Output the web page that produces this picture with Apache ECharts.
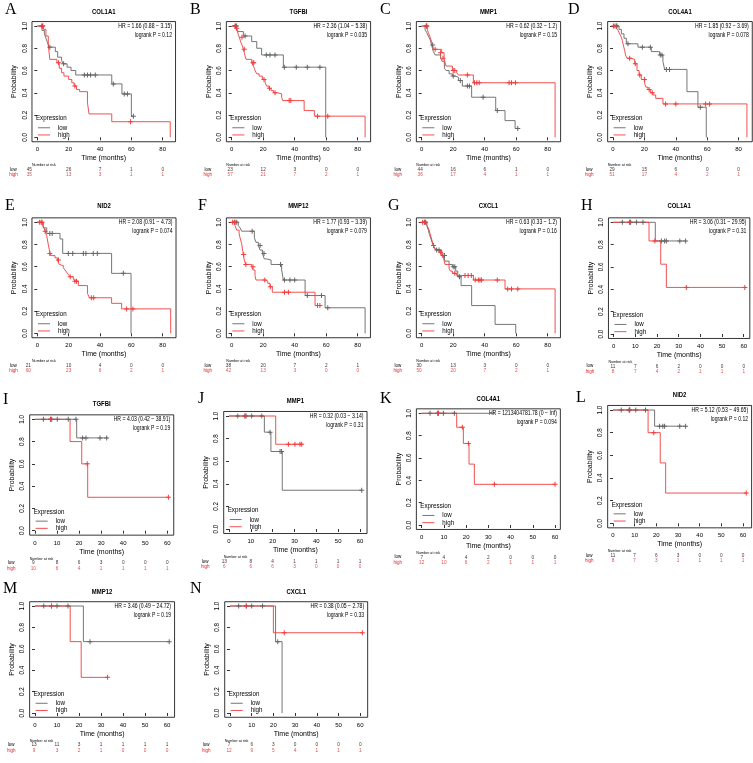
<!DOCTYPE html>
<html><head><meta charset="utf-8">
<script src="https://cdn.jsdelivr.net/npm/echarts@6.0.0/dist/echarts.min.js"></script>
<style>html,body{margin:0;padding:0;background:#fff}#c{width:753px;height:763px}</style>
</head><body><div id="c"></div><script>
// ---------- tick labels ----------
const X_TICKS_85 = [0, 20, 40, 60, 80];
const X_TICKS_60 = [0, 10, 20, 30, 40, 50, 60];
const Y_TICKS = [0, 0.2, 0.4, 0.6, 0.8, 1.0];

// ---------- panel texts ----------
const PANELS = ['A','B','C','D','E','F','G','H','I','J','K','L','M','N'];
const GENES = ['COL1A1','TGFBI','MMP1','COL4A1','NID2','MMP12','CXCL1','COL1A1','TGFBI','MMP1','COL4A1','NID2','MMP12','CXCL1'];
const HR_TEXT = ['HR = 1.66 (0.88 \u2212 3.15)','HR = 2.36 (1.04 \u2212 5.38)','HR = 0.62 (0.32 \u2212 1.2)','HR = 1.85 (0.92 \u2212 3.69)',
  'HR = 2.08 (0.91 \u2212 4.73)','HR = 1.77 (0.93 \u2212 3.39)','HR = 0.63 (0.33 \u2212 1.2)','HR = 3.06 (0.31 \u2212 29.95)',
  'HR = 4.03 (0.42 \u2212 38.91)','HR = 0.32 (0.03 \u2212 3.14)','HR = 1213404781.78 (0 \u2212 Inf)','HR = 5.12 (0.53 \u2212 49.65)',
  'HR = 3.46 (0.49 \u2212 24.72)','HR = 0.38 (0.05 \u2212 2.78)'];
const P_TEXT = ['0.12','0.035','0.15','0.078','0.074','0.079','0.16','0.31','0.19','0.31','0.094','0.12','0.19','0.33'];

// ---------- survival curves: [time, survival] ----------
const A_low = [[0,1],[3,0.96],[4.5,0.93],[5.5,0.89],[6.5,0.85],[7.5,0.81],[11.5,0.77],[13,0.72],[15.5,0.69],[16.5,0.66],[19,0.63],[21.5,0.6],[24.5,0.56],[47.5,0.48],[54,0.39],[60,0.19],[61.3,0.19]];
const A_lowCens = [[3.5,1],[8,0.81],[16.8,0.66],[30,0.56],[32,0.56],[34,0.56],[37,0.56],[48.5,0.48],[55.5,0.39],[57.5,0.39],[61.3,0.19]];
const A_high = [[0,1],[4,0.97],[5.5,0.91],[7,0.83],[8,0.7],[12.5,0.67],[14,0.62],[15.5,0.58],[17,0.55],[20,0.52],[22,0.49],[23.5,0.46],[25,0.43],[27,0.41],[32,0.31],[33,0.21],[47.5,0.14],[84.8,0.14],[84.8,0]];
const A_highCens = [[2.8,1],[3.3,1],[13.5,0.67],[24,0.46],[59.5,0.14]];

const B_low = [[0,1],[3.2,0.97],[4.2,0.95],[7.4,0.91],[12.7,0.86],[15.9,0.8],[19,0.74],[32.8,0.63],[59.7,0.63],[59.7,0]];
const B_lowCens = [[2.5,1],[3,1],[8.5,0.91],[22,0.74],[24.3,0.74],[27.5,0.74],[33.4,0.63],[41,0.63],[48,0.63],[56,0.63]];
const B_high = [[0,1],[2.5,0.98],[3.5,0.96],[4.2,0.92],[4.8,0.9],[5.9,0.85],[6.8,0.82],[7.4,0.79],[8,0.76],[8.5,0.73],[9.1,0.7],[12.7,0.67],[13.4,0.65],[14.4,0.62],[14.8,0.6],[15.9,0.57],[17.4,0.55],[19.5,0.52],[21.2,0.49],[22.2,0.46],[23.7,0.44],[25,0.42],[26.5,0.4],[29.2,0.39],[31.7,0.36],[32.4,0.33],[46,0.24],[52.5,0.19],[84.7,0.19],[84.7,0]];
const B_highCens = [[2.1,1],[3.2,0.98],[6.5,0.9],[8,0.79],[13.5,0.67],[14,0.67],[20.5,0.52],[24,0.44],[27.5,0.4],[36.5,0.33],[37.5,0.33],[54.5,0.19],[61,0.19]];

const C_low = [[0,1],[2.1,0.97],[3.2,0.94],[4.2,0.91],[5.3,0.88],[6.3,0.83],[6.8,0.8],[7.4,0.77],[8.5,0.74],[12,0.71],[13.1,0.68],[14.4,0.62],[15.5,0.6],[17.4,0.57],[19.5,0.55],[21.2,0.54],[23.3,0.51],[25.8,0.46],[31.7,0.36],[47,0.24],[52.9,0.15],[59.3,0.08],[61,0.08]];
const C_lowCens = [[3,1],[7,0.83],[20,0.55],[24.5,0.51],[29,0.46],[30.3,0.46],[39,0.36],[48,0.24],[61,0.08]];
const C_high = [[0,1],[3.6,0.97],[4.2,0.94],[5.3,0.9],[6.3,0.86],[7.4,0.79],[12.7,0.76],[14.2,0.71],[15.4,0.64],[19.5,0.6],[22.2,0.58],[23.3,0.56],[32.8,0.49],[84.7,0.49],[84.7,0]];
const C_highCens = [[2.8,1],[3.3,1],[8.5,0.79],[12,0.76],[13.5,0.71],[20,0.6],[21,0.6],[29,0.56],[33.5,0.49],[35,0.49],[36.5,0.49],[55.5,0.49],[57,0.49],[59.5,0.49]];

const D_low = [[0,1],[3.8,0.97],[5.3,0.93],[7,0.89],[8.5,0.84],[15.9,0.81],[24.4,0.77],[29.7,0.74],[31.8,0.68],[32.9,0.61],[47.1,0.41],[54.1,0.27],[59.4,0.27],[59.4,0]];
const D_lowCens = [[2.1,1],[2.5,1],[9.5,0.84],[18.7,0.81],[23.8,0.81],[30.1,0.74],[31.2,0.74],[34,0.61],[36,0.61],[55.6,0.27]];
const D_high = [[0,1],[2.1,0.98],[3.2,0.96],[4.2,0.93],[5.3,0.9],[5.9,0.87],[6.4,0.84],[7.4,0.78],[8,0.74],[8.9,0.71],[11.7,0.7],[13.8,0.66],[15.3,0.6],[16.6,0.56],[18,0.52],[20.2,0.48],[21,0.45],[22.3,0.43],[23.8,0.4],[25.5,0.38],[27.2,0.35],[31.8,0.3],[85.3,0.3],[85.3,0]];
const D_highCens = [[0.3,1],[1.2,1],[10.6,0.71],[14.2,0.66],[17,0.56],[20,0.52],[23,0.43],[25,0.4],[33.5,0.3],[40,0.3],[59,0.3],[61.5,0.3]];

const E_low = [[0,1],[3.8,0.95],[6,0.9],[14.5,0.85],[16.2,0.72],[47.4,0.54],[59.8,0.54],[59.8,0]];
const E_lowCens = [[8,0.9],[9.5,0.9],[19.8,0.72],[22.6,0.72],[29.4,0.72],[31,0.72],[35.7,0.72],[38.3,0.72],[54.9,0.54]];
const E_high = [[0,1],[3.4,0.97],[4.2,0.95],[5,0.92],[6,0.88],[7,0.8],[7.7,0.75],[8.1,0.72],[8.5,0.7],[11.3,0.68],[12.8,0.66],[14,0.62],[15,0.61],[16.6,0.59],[17.7,0.57],[18.7,0.55],[19.8,0.53],[20.9,0.51],[23,0.49],[24,0.47],[26.2,0.43],[32,0.36],[33.2,0.32],[47.4,0.27],[53.8,0.22],[85.1,0.22],[85.1,0]];
const E_highCens = [[1.5,1],[2.5,1],[3,1],[5,0.92],[8,0.72],[13.5,0.66],[21,0.51],[24,0.47],[25,0.47],[34.5,0.32],[36,0.32],[57,0.22],[61,0.22]];

const F_low = [[0,1],[4.2,0.97],[5.3,0.95],[6.3,0.92],[14.4,0.86],[15.4,0.82],[16.9,0.79],[18,0.75],[19.5,0.72],[20.7,0.67],[22.2,0.66],[25,0.62],[31.7,0.57],[32.8,0.48],[46.6,0.34],[59.3,0.23],[84.7,0.23],[84.7,0]];
const F_lowCens = [[2.1,1],[3.2,1],[13,0.92],[18,0.79],[20.5,0.72],[31,0.62],[33.5,0.48],[37,0.48],[40,0.48],[48,0.34],[57,0.34],[61,0.23]];
const F_high = [[0,1],[2.1,0.97],[3.2,0.93],[4.7,0.9],[5.3,0.86],[6.3,0.81],[7.4,0.71],[8,0.66],[8.9,0.62],[12.7,0.6],[13.5,0.57],[14.8,0.52],[15.4,0.48],[21.2,0.47],[22.9,0.45],[24.3,0.42],[25.8,0.37],[52.9,0.25],[56,0.25]];
const F_highCens = [[0.6,1],[1.7,1],[7.6,0.71],[9,0.62],[13.5,0.6],[21,0.48],[24.5,0.42],[33.5,0.37],[36,0.37],[54.5,0.25],[56,0.25]];

const G_low = [[0,1],[3.2,0.97],[4.2,0.93],[4.9,0.89],[5.9,0.85],[6.8,0.81],[8,0.77],[9.1,0.75],[12.7,0.72],[13.8,0.7],[14.8,0.65],[17.4,0.62],[19.5,0.6],[21.6,0.56],[22.9,0.51],[25,0.43],[31.7,0.25],[46.6,0.08],[59.7,0.08],[59.7,0]];
const G_lowCens = [[1.7,1],[2.5,1],[9.5,0.75],[11,0.75],[14.5,0.7],[20,0.6],[21,0.6],[24,0.51]];
const G_high = [[0,1],[3.2,0.98],[3.8,0.96],[4.7,0.93],[5.3,0.9],[6.3,0.85],[7.4,0.79],[8.5,0.76],[9.5,0.75],[11.2,0.73],[12.7,0.7],[13.8,0.68],[14.8,0.62],[17.4,0.58],[18.2,0.56],[19.5,0.54],[22.2,0.52],[32.8,0.48],[52.9,0.4],[84.7,0.4],[84.7,0]];
const G_highCens = [[0.6,1],[2.1,1],[7.5,0.79],[12,0.73],[13.5,0.7],[21,0.54],[27.5,0.52],[29.5,0.52],[31.5,0.52],[34,0.48],[36,0.48],[37,0.48],[38,0.48],[48,0.48],[54.6,0.4],[57,0.4],[61,0.4]];

const H_low = [[0,1],[19.2,0.833],[33.2,0.833]];
const H_lowCens = [[4,1],[7.4,1],[7.8,1],[10.5,1],[13.5,1],[22,0.833],[23.5,0.833],[24.3,0.833],[30.5,0.833],[33.2,0.833]];
const H_high = [[0,1],[16.3,0.833],[21.7,0.625],[24.3,0.417],[60.5,0.417]];
const H_highCens = [[7.4,1],[19,0.833],[33.5,0.417],[60.5,0.417]];

const I_low = [[0,1],[18.9,0.833],[33,0.833]];
const I_lowCens = [[3.8,1],[7.1,1],[7.6,1],[10.1,1],[15.1,1],[18.6,1],[21.6,0.833],[23.1,0.833],[29.5,0.833],[32.5,0.833]];
const I_high = [[0,1],[15.9,0.8],[21.2,0.6],[23.9,0.3],[60.5,0.3]];
const I_highCens = [[7.1,1],[23.7,0.6],[60.5,0.3]];

const J_low = [[0,1],[16.2,0.857],[19.2,0.686],[24.4,0.343],[60.8,0.343]];
const J_lowCens = [[4,1],[7.3,1],[7.8,1],[10.4,1],[15,1],[18.8,0.857],[23.4,0.686],[24.1,0.686],[60.8,0.343]];
const J_high = [[0,1],[21.4,0.75],[33.5,0.75]];
const J_highCens = [[7.3,1],[27.2,0.75],[30.2,0.75],[32.5,0.75],[33.3,0.75]];

const K_low = [[0,1],[33,1]];
const K_lowCens = [[3.75,1],[7.2,1],[7.5,1],[9.75,1],[14.7,1]];
const K_high = [[0,1],[15.75,0.875],[18.75,0.73],[21.3,0.545],[23.7,0.364],[60,0.364]];
const K_highCens = [[7.5,1],[18.3,0.875],[21,0.73],[32.7,0.364],[60,0.364]];

const L_low = [[0,1],[19.2,0.857],[33.5,0.857]];
const L_lowCens = [[3.8,1],[7.4,1],[7.7,1],[10.5,1],[15,1],[21.5,0.857],[23,0.857],[23.8,0.857],[30.8,0.857],[33.5,0.857]];
const L_high = [[0,1],[16.2,0.8],[21.8,0.533],[24.3,0.267],[61.5,0.267]];
const L_highCens = [[7.7,1],[18.8,0.8],[61.5,0.267]];

const M_low = [[0,1],[22,0.667],[61,0.667]];
const M_lowCens = [[4,1],[7.5,1],[10,1],[15,1],[25,0.667],[61,0.667]];
const M_high = [[0,1],[16,0.667],[21,0.333],[33,0.333]];
const M_highCens = [[7.5,1],[33,0.333]];

const N_low = [[0,1],[21,0.667],[24,0.667],[24,0]];
const N_lowCens = [[4,1],[7.5,1],[10,1],[15,1],[22,0.667]];
const N_high = [[0,1],[20,0.75],[61,0.75]];
const N_highCens = [[7.5,1],[25,0.75],[61,0.75]];

// ---------- numbers at risk ----------
const A_riskLow = [45,26,7,1,0];   const A_riskHigh = [35,13,3,1,1];
const B_riskLow = [23,12,3,0,0];   const B_riskHigh = [57,21,7,2,1];
const C_riskLow = [44,16,6,1,0];   const C_riskHigh = [36,17,4,1,1];
const D_riskLow = [29,15,6,0,0];   const D_riskHigh = [51,17,4,2,1];
const E_riskLow = [21,10,4,0,0];   const E_riskHigh = [60,23,6,2,1];
const F_riskLow = [38,20,7,2,1];   const F_riskHigh = [42,13,3,0,0];
const G_riskLow = [30,13,3,0,0];   const G_riskHigh = [50,20,7,2,1];
const H_riskLow = [11,7,6,2,0,0,0]; const H_riskHigh = [8,7,4,2,1,1,1];
const I_riskLow = [9,8,6,3,0,0,0];  const I_riskHigh = [10,6,4,1,1,1,1];
const J_riskLow = [13,8,4,1,1,1,1]; const J_riskHigh = [6,6,6,3,0,0,0];
const K_riskLow = [7,4,4,2,0,0,0];  const K_riskHigh = [12,10,6,2,1,1,1];
const L_riskLow = [11,7,6,3,0,0,0]; const L_riskHigh = [8,7,3,1,1,1,1];
const M_riskLow = [13,11,3,1,1,1,1]; const M_riskHigh = [9,3,2,1,0,0,0];
const N_riskLow = [7,6,3,0,0,0,0];  const N_riskHigh = [12,9,5,4,1,1,1];

// ---------- layout (pixel positions, kept separate from data) ----------
const LAYOUT = {
  A:{x0:37.3, xs:1.5675, y1:26,    y0:137.3, tmax:84.8, lx:5,   ly:10,    ty:11.7, first:-8},
  B:{x0:231.7,xs:1.575,  y1:26,    y0:137.3, tmax:84.8, lx:190, ly:10,    ty:12.2, first:-1.5},
  C:{x0:421.7,xs:1.575,  y1:26,    y0:137.3, tmax:84.8, lx:380, ly:10,    ty:12.2, first:-1.5},
  D:{x0:613,  xs:1.57,   y1:26,    y0:137.3, tmax:85.3, lx:568, ly:10,    ty:12.2, first:-1},
  E:{x0:37.3, xs:1.5675, y1:222.3, y0:333.3, tmax:85.1, lx:5,   ly:205.5, ty:206, first:-9},
  F:{x0:231.7,xs:1.575,  y1:222.3, y0:333.3, tmax:84.7, lx:198, ly:205.5, ty:206, first:-3.3},
  G:{x0:421.7,xs:1.575,  y1:222.3, y0:333.3, tmax:84.7, lx:388, ly:205.5, ty:206, first:-2.7},
  H:{x0:613.7,xs:2.167,  y1:222.3, y0:334,   tmax:60.4, lx:581, ly:206,   ty:206, first:-0.7},
  I:{x0:35,   xs:2.205,  y1:419.3, y0:530.7, tmax:60.5, lx:3,   ly:400,   ty:404, first:-1.7},
  J:{x0:229,  xs:2.183,  y1:416,   y0:529,   tmax:60.8, lx:198, ly:399,   ty:400.7, first:-4.7},
  K:{x0:421.7,xs:2.222,  y1:413.3, y0:525,   tmax:60,   lx:380, ly:399,   ty:399.3, first:0},
  L:{x0:613,  xs:2.167,  y1:410,   y0:523.3, tmax:61.5, lx:576, ly:398,   ty:395, first:0},
  M:{x0:35,   xs:2.2,    y1:606,   y0:713,   tmax:61,   lx:3,   ly:589,   ty:592, first:-1},
  N:{x0:230,  xs:2.17,   y1:606,   y0:713,   tmax:61,   lx:190, ly:589,   ty:592, first:-1}
};

// ---------- build ----------
const SRC = {
  A:[A_low,A_lowCens,A_high,A_highCens,A_riskLow,A_riskHigh,X_TICKS_85],
  B:[B_low,B_lowCens,B_high,B_highCens,B_riskLow,B_riskHigh,X_TICKS_85],
  C:[C_low,C_lowCens,C_high,C_highCens,C_riskLow,C_riskHigh,X_TICKS_85],
  D:[D_low,D_lowCens,D_high,D_highCens,D_riskLow,D_riskHigh,X_TICKS_85],
  E:[E_low,E_lowCens,E_high,E_highCens,E_riskLow,E_riskHigh,X_TICKS_85],
  F:[F_low,F_lowCens,F_high,F_highCens,F_riskLow,F_riskHigh,X_TICKS_85],
  G:[G_low,G_lowCens,G_high,G_highCens,G_riskLow,G_riskHigh,X_TICKS_85],
  H:[H_low,H_lowCens,H_high,H_highCens,H_riskLow,H_riskHigh,X_TICKS_60],
  I:[I_low,I_lowCens,I_high,I_highCens,I_riskLow,I_riskHigh,X_TICKS_60],
  J:[J_low,J_lowCens,J_high,J_highCens,J_riskLow,J_riskHigh,X_TICKS_60],
  K:[K_low,K_lowCens,K_high,K_highCens,K_riskLow,K_riskHigh,X_TICKS_60],
  L:[L_low,L_lowCens,L_high,L_highCens,L_riskLow,L_riskHigh,X_TICKS_60],
  M:[M_low,M_lowCens,M_high,M_highCens,M_riskLow,M_riskHigh,X_TICKS_60],
  N:[N_low,N_lowCens,N_high,N_highCens,N_riskLow,N_riskHigh,X_TICKS_60]
};

const FF = "'Liberation Sans',Arial,sans-serif";
const SERIF = "'Liberation Serif','Times New Roman',serif";
const LOW_C = '#666666', HIGH_C = '#f23c3c', HIGH_TXT = '#e8191c';
const PLUS = 'path://M4,0H6V4H10V6H6V10H4V6H0V4H4Z';
const SQUEEZE = 0.8;   // the reference text is horizontally condensed

const grids = [], xAxes = [], yAxes = [], series = [], graphics = [];
function txt(x, y, text, size, opts) {
  opts = opts || {};
  graphics.push({type:'text', x:x, y:y, silent:true, scaleX:(opts.sx || SQUEEZE), style:{
    text:text, fill:opts.fill || '#000', fontSize:size, fontFamily:opts.family || FF, fontWeight:opts.weight || 'normal',
    align:opts.align || 'left', textAlign:opts.align || 'left', verticalAlign:'middle', textVerticalAlign:'middle'}});
}
PANELS.forEach(function(k, idx) {
  const lay = LAYOUT[k], s = SRC[k];
  const low = s[0], lowC = s[1], high = s[2], highC = s[3], rLow = s[4], rHigh = s[5], ticks = s[6];
  const ys = lay.y0 - lay.y1;
  const xmin = -0.04 * lay.tmax, xmax = 1.04 * lay.tmax;
  const left = lay.x0 + xmin * lay.xs, width = (xmax - xmin) * lay.xs;
  const top = lay.y1 - 0.04 * ys, height = 1.08 * ys;
  const right = left + width, bottom = top + height;
  const gi = grids.length;
  grids.push({left:left, top:top, width:width, height:height, show:true, borderColor:'#000', borderWidth:0.8,
    backgroundColor:'transparent', containLabel:false, outerBoundsMode:'none'});
  xAxes.push({gridIndex:gi, type:'value', min:xmin, max:xmax, axisLine:{show:false}, splitLine:{show:false},
    axisTick:{show:true, customValues:ticks, length:3, lineStyle:{color:'#000', width:0.8}},
    axisLabel:{show:true, customValues:ticks, fontSize:6, fontFamily:FF, color:'#000', margin:5},
    name:'Time (months)', nameLocation:'middle', nameGap:13,
    nameTextStyle:{fontSize:7, fontFamily:FF, color:'#000'}});
  yAxes.push({gridIndex:gi, type:'value', min:-0.04, max:1.04, axisLine:{show:false}, splitLine:{show:false},
    axisTick:{show:true, customValues:Y_TICKS, length:3, lineStyle:{color:'#000', width:0.8}},
    axisLabel:{show:true, customValues:Y_TICKS, rotate:90, fontSize:6.3, fontFamily:FF, color:'#000', margin:4,
      formatter:function(v){ return (+v).toFixed(1); }},
    name:'Probability', nameLocation:'middle', nameGap:14,
    nameTextStyle:{fontSize:7, fontFamily:FF, color:'#000'}});
  // number-at-risk table grid
  const gr = grids.length;
  grids.push({left:left, top:bottom + 25, width:width, height:11, show:false, containLabel:false, outerBoundsMode:'none'});
  xAxes.push({gridIndex:gr, type:'value', min:xmin, max:xmax, show:false});
  yAxes.push({gridIndex:gr, type:'category', data:['low','high'], inverse:true,
    axisLine:{show:false}, axisTick:{show:false}, splitLine:{show:false},
    axisLabel:{show:true, interval:0, hideOverlap:false, fontSize:4.5, fontFamily:FF, align:'center', margin:18.5,
      color:function(v){ return v === 'high' ? HIGH_TXT : '#000'; }}});

  series.push({type:'line', xAxisIndex:gi, yAxisIndex:gi, data:low, step:'end', symbol:'none', showSymbol:false,
    lineStyle:{color:LOW_C, width:0.9}, silent:true, z:2});
  series.push({type:'line', xAxisIndex:gi, yAxisIndex:gi, data:high, step:'end', symbol:'none', showSymbol:false,
    lineStyle:{color:HIGH_C, width:0.9}, silent:true, z:3});
  series.push({type:'scatter', xAxisIndex:gi, yAxisIndex:gi, data:lowC, symbol:PLUS, symbolSize:5,
    itemStyle:{color:LOW_C, opacity:1}, silent:true, z:4});
  series.push({type:'scatter', xAxisIndex:gi, yAxisIndex:gi, data:highC, symbol:PLUS, symbolSize:5,
    itemStyle:{color:HIGH_C, opacity:1}, silent:true, z:5});
  [[rLow, 0, '#000'], [rHigh, 1, HIGH_TXT]].forEach(function(r) {
    series.push({type:'scatter', xAxisIndex:gr, yAxisIndex:gr, symbolSize:0.1, silent:true,
      itemStyle:{color:'rgba(0,0,0,0)'},
      data:ticks.map(function(t, i){
        const item = {value:[t, r[1], r[0][i]]};
        if (i === 0 && lay.first) item.label = {offset:[lay.first, 0]};
        return item;
      }),
      label:{show:true, position:'inside', fontSize:4.7, fontFamily:FF, color:r[2],
        formatter:function(p){ return String(p.value[2]); }}});
  });

  // texts
  txt(lay.lx, lay.ly, k, 16, {family:SERIF, sx:1});
  txt((left + right) / 2, lay.ty, GENES[idx], 7, {align:'center', weight:'bold', sx:0.85});
  txt(right - 3.5, top + 4.8, HR_TEXT[idx], 6.4, {align:'right'});
  txt(right - 3.5, top + 13.8, 'logrank P = ' + P_TEXT[idx], 6.4, {align:'right'});
  txt(left + 4, bottom - 23.3, 'Expression', 7.3, {sx:0.85});
  graphics.push({type:'line', silent:true, shape:{x1:left + 6, y1:bottom - 14, x2:left + 18, y2:bottom - 14}, style:{stroke:LOW_C, lineWidth:0.9}});
  graphics.push({type:'line', silent:true, shape:{x1:left + 6, y1:bottom - 6.8, x2:left + 18, y2:bottom - 6.8}, style:{stroke:HIGH_C, lineWidth:0.9}});
  txt(left + 26, bottom - 14, 'low', 7.3, {sx:0.85});
  txt(left + 26, bottom - 6.8, 'high', 7.3, {sx:0.85});
  txt(left, bottom + 23.3, 'Number at risk', 4.3, {sx:0.85});
});

const chart = echarts.init(document.getElementById('c'), null, {renderer:'canvas'});
chart.setOption({
  animation:false, backgroundColor:'#ffffff',
  grid:grids, xAxis:xAxes, yAxis:yAxes, series:series,
  graphic:{elements:graphics}
});
</script></body></html>
